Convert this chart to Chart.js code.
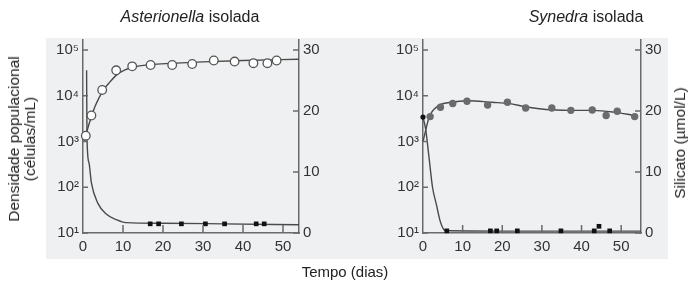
<!DOCTYPE html>
<html lang="pt">
<head>
<meta charset="UTF-8">
<title>Asterionella e Synedra isoladas</title>
<script src="https://cdn.jsdelivr.net/npm/chart.js"></script>
<style>
  body { margin: 0; width: 688px; height: 287px; position: relative; overflow: hidden; background: #fff;
         font-family: "Liberation Sans", Arial, sans-serif; color: #222; }
  #panelBg { position: absolute; left: 46px; top: 38px; width: 622px; height: 221px; background: #eef0f2; }
  canvas { position: absolute; top: 0; }
  .title { position: absolute; top: 8px; font-size: 16px; line-height: 18px; white-space: nowrap; transform: translateX(-50%); }
  .vlab { position: absolute; font-size: 15.5px; line-height: 16px; white-space: nowrap; text-align: center;
          transform: translate(-50%, -50%) rotate(-90deg); }
  #xlab { position: absolute; left: 345px; top: 263px; font-size: 15px; transform: translateX(-50%); white-space: nowrap; }
</style>
</head>
<body>
<div id="panelBg"></div>
<canvas id="astChart" width="344" height="287" style="left:0"></canvas>
<canvas id="synChart" width="344" height="287" style="left:344px"></canvas>

<div class="title" style="left:190px"><i>Asterionella</i> isolada</div>
<div class="title" style="left:586px"><i>Synedra</i> isolada</div>
<div class="vlab" style="left:22px; top:139px">Densidade populacional<br>(células/mL)</div>
<div class="vlab" style="left:680px; top:143px">Silicato (µmol/L)</div>
<div id="xlab">Tempo (dias)</div>

<script>
// tick values and labels
var popTicks = [10, 100, 1000, 10000, 100000];
var popLabels = ['10¹', '10²', '10³', '10⁴', '10⁵'];
var silTicks = [0, 10, 20, 30];
var dayTicks = [0, 10, 20, 30, 40, 50];

// Asterionella isolada
var astDays = [0.7, 2.1, 4.8, 8.3, 12.3, 16.9, 22.3, 27.3, 32.7, 37.9, 42.6, 46.1, 48.4];
var astCells = [1340, 3700, 13400, 36000, 44000, 47000, 47000, 49500, 59000, 56000, 51500, 51500, 59000];
var astFitDays = [0.3, 1, 2, 3, 4, 5, 6.5, 8.5, 10.5, 13, 17, 22, 30, 40, 54];
var astFitCells = [1000, 1700, 3300, 5800, 9000, 13000, 19000, 29000, 37000, 43000, 48000, 51000, 55000, 59000, 63000];
var astSilDays = [16.8, 18.9, 24.6, 30.6, 35.4, 43.3, 45.3];
var astSil = [1.5, 1.5, 1.5, 1.5, 1.5, 1.5, 1.5];
var astSilFitDays = [0.9, 1.0, 1.5, 2.1, 3.7, 5.8, 8.3, 10.7, 20, 35, 54];
var astSilFit = [26.7, 15.5, 11.5, 8.2, 4.9, 3.1, 2.2, 1.7, 1.6, 1.5, 1.35];

// Synedra isolada
var synDays = [1.8, 4.4, 7.5, 11.1, 16.3, 21.3, 25.9, 32.5, 37.3, 42.7, 46.2, 49.0, 53.4];
var synCells = [3500, 5600, 6800, 7600, 6300, 7200, 5400, 5400, 4800, 4900, 3700, 4600, 3500];
var synFitDays = [0, 1.6, 3.7, 7.1, 11.4, 17.4, 21.6, 25.9, 31.0, 37.0, 43.0, 48.1, 53.4];
var synFitCells = [1000, 3470, 5900, 7200, 7800, 7200, 6800, 5750, 5000, 4800, 4800, 4400, 3700];
var synSilDays = [6.0, 17.0, 18.6, 23.8, 34.8, 43.2, 44.4, 47.1];
var synSil = [0.35, 0.35, 0.35, 0.35, 0.35, 0.35, 1.1, 0.35];
var synSilStartDays = [0];
var synSilStart = [19];
var synSilFitDays = [0, 0.7, 1.5, 2.4, 3.4, 4.4, 5.6, 20, 55];
var synSilFit = [19, 16.9, 12.5, 7.5, 4.6, 1.8, 0.4, 0.3, 0.3];

Chart.defaults.font.family = "'Liberation Sans', Arial, sans-serif";
Chart.defaults.font.size = 15;
Chart.defaults.color = '#333';

var axisColor = '#6a6a6a';

function pts(xs, ys) {
    return xs.map(function(x, i) { return { x: x, y: ys[i] }; });
}

// small inward tick marks, placed with the chart's own scales
var inwardTicks = {
    id: 'inwardTicks',
    afterDatasetsDraw: function(chart) {
        var ctx = chart.ctx, a = chart.chartArea, s = chart.scales;
        ctx.save();
        ctx.strokeStyle = axisColor;
        ctx.lineWidth = 1.5;
        ctx.beginPath();
        popTicks.forEach(function(v) {
            var y = s.y.getPixelForValue(v);
            ctx.moveTo(a.left, y); ctx.lineTo(a.left + 5, y);
        });
        silTicks.forEach(function(v) {
            var y = s.y2.getPixelForValue(v);
            ctx.moveTo(a.right, y); ctx.lineTo(a.right - 6, y);
        });
        dayTicks.forEach(function(v) {
            if (v === 0) return;
            var x = s.x.getPixelForValue(v);
            ctx.moveTo(x, a.bottom); ctx.lineTo(x, a.bottom - 8);
        });
        ctx.stroke();
        ctx.restore();
    }
};

function makeChart(id, cfg) {
    var fixTicks = function(list) {
        return function(scale) { scale.ticks = list.map(function(v) { return { value: v }; }); };
    };
    return new Chart(document.getElementById(id).getContext('2d'), {
        type: 'line',
        data: { datasets: cfg.datasets },
        plugins: [inwardTicks],
        options: {
            responsive: false,
            animation: false,
            events: [],
            layout: { padding: { top: 40, left: 0, right: 0, bottom: 0 } },
            plugins: { legend: { display: false }, tooltip: { enabled: false } },
            elements: { line: { cubicInterpolationMode: 'monotone' } },
            scales: {
                x: {
                    type: 'linear', min: 0, max: cfg.xMax,
                    afterBuildTicks: fixTicks(dayTicks),
                    afterFit: function(s) { s.height = 54; },
                    grid: { display: false, drawTicks: false },
                    border: { color: axisColor, width: 1.5 },
                    ticks: { padding: 5, maxRotation: 0, color: '#333' }
                },
                y: {
                    type: 'logarithmic', position: 'left', min: 10, max: 165600,
                    afterBuildTicks: fixTicks(popTicks),
                    afterFit: function(s) { s.width = cfg.leftW; },
                    grid: { display: false, drawTicks: false },
                    border: { color: axisColor, width: 1.5 },
                    ticks: {
                        padding: 4, color: '#333',
                        callback: function(v) {
                            var i = popTicks.indexOf(v);
                            return i >= 0 ? popLabels[i] : '';
                        }
                    }
                },
                y2: {
                    type: 'linear', position: 'right', min: 0, max: 31.64,
                    afterBuildTicks: fixTicks(silTicks),
                    afterFit: function(s) { s.width = cfg.rightW; },
                    grid: { display: false, drawTicks: false },
                    border: { color: axisColor, width: 1.5 },
                    ticks: { padding: 4, color: '#333' }
                }
            }
        }
    });
}

var lineStyle = { borderColor: '#4a4a4a', borderWidth: 1.4, pointRadius: 0, fill: false, clip: false };

makeChart('astChart', {
    xMax: 54, leftW: 83, rightW: 45,
    datasets: [
        { data: pts(astDays, astCells), yAxisID: 'y', showLine: false, pointRadius: 4.3,
          pointBackgroundColor: '#fff', pointBorderColor: '#555', pointBorderWidth: 1.3, clip: false },
        { data: pts(astSilDays, astSil), yAxisID: 'y2', showLine: false, pointStyle: 'rect', pointRadius: 3.3,
          pointBackgroundColor: '#111', pointBorderColor: '#111', pointBorderWidth: 0, clip: false },
        Object.assign({ data: pts(astFitDays, astFitCells), yAxisID: 'y' }, lineStyle),
        Object.assign({ data: pts(astSilFitDays, astSilFit), yAxisID: 'y2' }, lineStyle)
    ]
});

makeChart('synChart', {
    xMax: 55, leftW: 79, rightW: 47,
    datasets: [
        { data: pts(synDays, synCells), yAxisID: 'y', showLine: false, pointRadius: 3.7,
          pointBackgroundColor: '#6b6b6b', pointBorderColor: '#6b6b6b', pointBorderWidth: 0, clip: false },
        { data: pts(synSilStartDays, synSilStart), yAxisID: 'y2', showLine: false, pointRadius: 2.6,
          pointBackgroundColor: '#111', pointBorderColor: '#111', pointBorderWidth: 0, clip: false },
        { data: pts(synSilDays, synSil), yAxisID: 'y2', showLine: false, pointStyle: 'rect', pointRadius: 3.3,
          pointBackgroundColor: '#111', pointBorderColor: '#111', pointBorderWidth: 0, clip: false },
        Object.assign({ data: pts(synFitDays, synFitCells), yAxisID: 'y' }, lineStyle),
        Object.assign({ data: pts(synSilFitDays, synSilFit), yAxisID: 'y2' }, lineStyle)
    ]
});
</script>
</body>
</html>
